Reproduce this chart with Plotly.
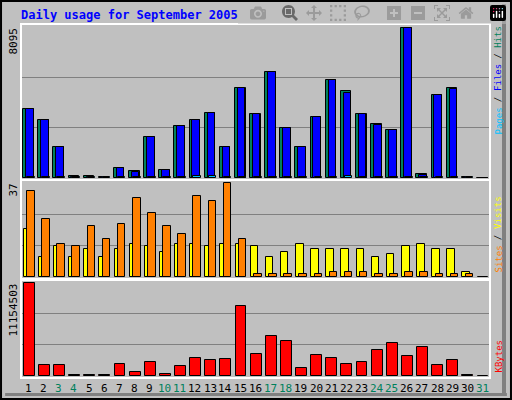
import plotly.graph_objects as go

days = list(range(1, 32))
hits = [3698, 3146, 1656, 110, 110, 30, 552, 386, 2208, 442, 2815, 3146, 3477, 1656, 4857, 3422,
        5685, 2704, 1656, 3256, 5298, 4691, 3422, 2925, 2594, 8095, 220, 4471, 4857, 30, 0]
files = [3698, 3146, 1656, 60, 60, 30, 552, 330, 2208, 420, 2815, 3146, 3477, 1656, 4857, 3422,
         5685, 2704, 1656, 3256, 5298, 4581, 3422, 2870, 2594, 8075, 165, 4471, 4802, 30, 0]
pages = [30, 30, 30, 30, 30, 30, 30, 30, 30, 30, 30, 110, 110, 30, 30, 30,
         30, 30, 30, 30, 30, 110, 30, 30, 30, 30, 30, 30, 30, 30, 0]
visits = [19, 8, 12, 8, 11, 8, 11, 13, 12, 10, 13, 13, 12, 13, 13, 12,
          8, 10, 13, 11, 11, 11, 11, 8, 9, 12, 13, 11, 11, 2, 0]
sites = [34, 23, 13, 12, 20, 15, 21, 31, 25, 20, 17, 32, 30, 37, 15, 1,
         1, 1, 1, 1, 2, 2, 2, 1, 1, 2, 2, 1, 1, 1, 0]
kbytes = [11154503, 1270000, 1270000, 100000, 100000, 100000, 1390000, 490000, 1630000, 290000,
          1140000, 2120000, 1880000, 2000000, 8380000, 2610000, 4820000, 4210000, 900000, 2490000,
          2120000, 1390000, 1630000, 3100000, 3960000, 2370000, 3470000, 1270000, 1880000, 100000, 0]
weekend = [3, 4, 10, 11, 17, 18, 24, 25, 31]

W, H = 512, 400
x0, x1 = 21, 490
panels = [(26, 178), (182, 277), (282, 376)]


def ydom(p):
    return [1 - p[1] / H, 1 - p[0] / H]


fig = go.Figure()
line = dict(color="black", width=1)
fig.add_bar(x=days, y=hits, width=0.7, offset=-0.36, marker=dict(color="#00805c", line=line), yaxis="y")
fig.add_bar(x=days, y=files, width=0.5, offset=-0.17, marker=dict(color="#0000ff", line=line), yaxis="y")
fig.add_bar(x=days, y=pages, width=0.5, offset=-0.1, marker=dict(color="#00c0ff", line=line), yaxis="y")
fig.add_bar(x=days, y=visits, width=0.5, offset=-0.32, marker=dict(color="#ffff00", line=line), yaxis="y2")
fig.add_bar(x=days, y=sites, width=0.5, offset=-0.1, marker=dict(color="#ff8000", line=line), yaxis="y2")
fig.add_bar(x=days, y=kbytes, width=0.72, offset=-0.32, marker=dict(color="#ff0000", line=line), yaxis="y3")

maxes = [max(hits), max(sites), max(kbytes)]
grid = dict(showgrid=True, gridcolor="#808080", gridwidth=1, zeroline=False, showticklabels=False,
            ticks="", fixedrange=True)
fig.update_layout(
    width=W, height=H, margin=dict(l=0, r=0, t=0, b=0),
    paper_bgcolor="#c0c0c0", plot_bgcolor="#c0c0c0", showlegend=False,
    barmode="overlay", bargap=0,
    xaxis=dict(domain=[x0 / W, x1 / W], range=[0.5, 31.5], showticklabels=False,
               showgrid=False, zeroline=False, anchor="y3"),
    yaxis=dict(domain=ydom(panels[0]), range=[0, maxes[0] * 1.01],
               tickvals=[maxes[0] / 3, maxes[0] * 2 / 3], **grid),
    yaxis2=dict(domain=ydom(panels[1]), range=[0, maxes[1] * 1.01],
                tickvals=[maxes[1] / 3, maxes[1] * 2 / 3], **grid),
    yaxis3=dict(domain=ydom(panels[2]), range=[0, maxes[2] * 1.01],
                tickvals=[maxes[2] / 3, maxes[2] * 2 / 3], **grid),
)

shapes = [dict(type="rect", xref="paper", yref="paper", x0=0.002, x1=0.998, y0=0.0025, y1=0.9975,
               line=dict(color="black", width=2)),
          dict(type="rect", xref="paper", yref="paper", x0=502 / W, x1=506 / W, y0=0.01, y1=0.99,
               line=dict(width=0), fillcolor="#808080", layer="below"),
          dict(type="rect", xref="paper", yref="paper", x0=0.01, x1=0.99, y0=1 - 396 / H, y1=1 - 393 / H,
               line=dict(width=0), fillcolor="#808080", layer="below")]
for p in panels:
    shapes.append(dict(type="rect", xref="paper", yref="paper", x0=x0 / W, x1=x1 / W,
                       y0=1 - (p[1] + 2) / H, y1=1 - (p[0] - 2) / H,
                       line=dict(color="white", width=2)))
fig.update_layout(shapes=shapes)

mono = "DejaVu Sans Mono"
ann = [dict(text="<b>Daily usage for September 2005</b>", x=19 / W, y=1 - 15 / H, xref="paper", yref="paper",
            xanchor="left", yanchor="middle", showarrow=False, font=dict(family=mono, size=12, color="#0000ff"))]
for p, m in zip(panels, maxes):
    ann.append(dict(text=str(m), x=13 / W, y=1 - p[0] / H, xref="paper", yref="paper", textangle=-90,
                    xanchor="center", yanchor="top", showarrow=False,
                    font=dict(family=mono, size=11, color="black")))

# right-hand legends, rotated, read bottom to top
cw = 5.45
right = [(137, [("Pages", "#00c0ff"), (" / ", "black"), ("Files", "#0000ff"), (" / ", "black"),
                ("Hits", "#00805c")]),
         (275, [("Sites", "#ff8000"), (" / ", "black"), ("Visits", "#ffff00")]),
         (375, [("KBytes", "#ff0000")])]
for bottom, parts in right:
    yb = bottom
    for txt, col in parts:
        n = len(txt)
        if txt.strip():
            ann.append(dict(text=txt, x=498 / W, y=1 - yb / H, xref="paper", yref="paper", textangle=-90,
                            xanchor="center", yanchor="bottom", showarrow=False,
                            font=dict(family=mono, size=9, color=col)))
        else:
            ann.append(dict(text="/", x=498 / W, y=1 - (yb - n * cw / 2) / H, xref="paper", yref="paper",
                            textangle=-90, xanchor="center", yanchor="middle", showarrow=False,
                            font=dict(family=mono, size=9, color="black")))
        yb -= n * cw

for d in days:
    ann.append(dict(text=str(d), x=d, y=1 - 388 / H, xref="x", yref="paper", showarrow=False,
                    xanchor="center", yanchor="middle",
                    font=dict(family=mono, size=11, color="#00805c" if d in weekend else "black")))
fig.update_layout(annotations=ann)

fig.write_html("out.html", post_script="document.body.style.margin='0';")
